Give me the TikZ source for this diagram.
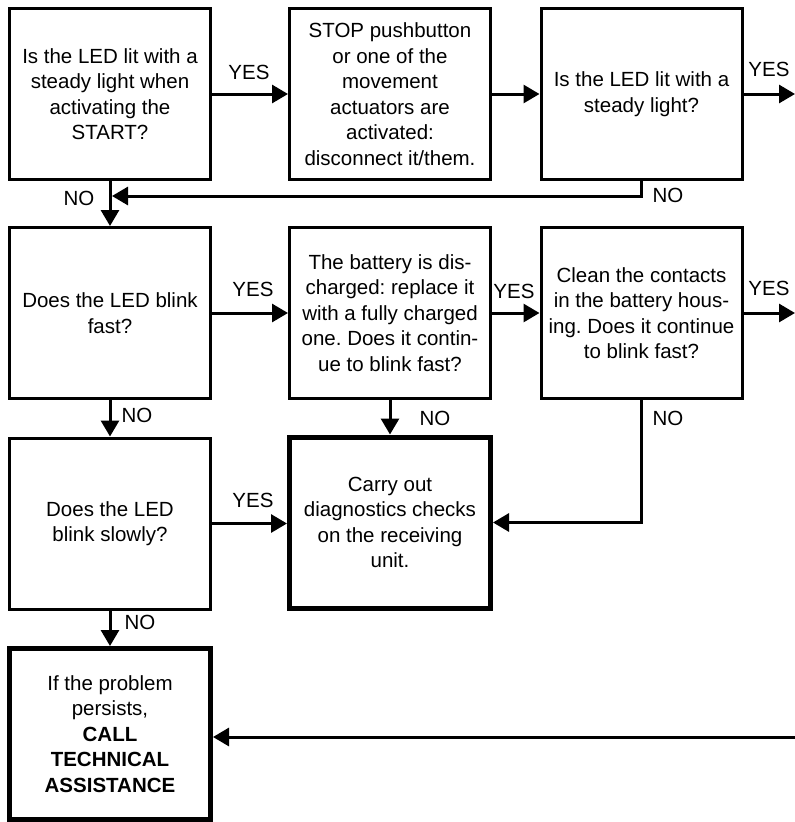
\documentclass[tikz,border=0pt]{standalone}
\usepackage{fontspec}
\setmainfont{Liberation Sans}
\usetikzlibrary{arrows.meta,positioning}
\frenchspacing

\begin{document}
\begin{tikzpicture}[x=1pt,y=-1pt,
    font=\fontsize{20.5}{25.5}\selectfont,
    flowbox/.style={draw,line width=3pt,minimum width=201pt,minimum height=171pt,
      align=center,inner sep=0pt},
    thickbox/.style={flowbox,line width=5pt},
    lbl/.style={inner sep=0pt},
    flow/.style={line width=3pt,-{Triangle[length=16pt,width=18pt]}}]
  \useasboundingbox (0,0) rectangle (795,822);

  % first row
  \node[flowbox] (startq) at (110,94) {Is the LED lit with a\\ steady light when\\ activating the\\ START?};
  \node[flowbox] (stopbox) at (390,94) {STOP pushbutton\\ or one of the\\ movement\\ actuators are\\ activated:\\ disconnect it/them.};
  \node[flowbox] (steadyq) at (641.5,94) {Is the LED lit with a\\ steady light?};
  % second row
  \node[flowbox] (fastq) at (110,313) {Does the LED blink\\ fast?};
  \node[flowbox] (battery) at (390,313) {The battery is dis-\\ charged: replace it\\ with a fully charged\\ one. Does it contin-\\ ue to blink fast?};
  \node[flowbox] (contacts) at (641.5,313) {Clean the contacts\\ in the battery hous-\\ ing. Does it continue\\ to blink fast?};
  % third row
  \node[flowbox] (slowq) at (110,523.5) {Does the LED\\ blink slowly?};
  \node[thickbox] (diag) at (390,522.5) {Carry out\\ diagnostics checks\\ on the receiving\\ unit.};
  % last row
  \node[thickbox] (assist) at (110,734) {If the problem\\ persists,\\ \textbf{CALL}\\ \textbf{TECHNICAL}\\ \textbf{ASSISTANCE}};

  \coordinate (outA) at (795,94);
  \coordinate (outB) at (795,313);
  \coordinate (inC) at (795,737);
  \coordinate (merge) at (112,196);

  \draw[flow] (startq) -- (stopbox);
  \draw[flow] (stopbox) -- (steadyq);
  \draw[flow] (steadyq) -- (outA);
  \draw[flow] (startq) -- (fastq);
  \draw[flow] (steadyq.south) |- (merge);
  \draw[flow] (fastq) -- (battery);
  \draw[flow] (battery) -- (contacts);
  \draw[flow] (contacts) -- (outB);
  \draw[flow] (fastq) -- (slowq);
  \draw[flow] (battery) -- (diag);
  \draw[flow] (contacts.south) |- (diag.east);
  \draw[flow] (slowq.east) -- (diag.west |- slowq.east);
  \draw[flow] (slowq) -- (assist);
  \draw[flow] (inC) -- (assist.east |- inC);

  % answers
  \node[lbl] (yesA) at (249,72) {YES};
  \node[lbl] (yesB) at (769,69) {YES};
  \node[lbl] (noA) at (79,198) {NO};
  \node[lbl] (noB) at (668,195) {NO};
  \node[lbl] (yesC) at (253,289) {YES};
  \node[lbl] (yesD) at (514,291) {YES};
  \node[lbl] (yesE) at (769,288) {YES};
  \node[lbl] (noC) at (137,415) {NO};
  \node[lbl] (noD) at (435,418) {NO};
  \node[lbl] (noE) at (668,418) {NO};
  \node[lbl] (yesF) at (253,500) {YES};
  \node[lbl] (noF) at (140,622) {NO};
\end{tikzpicture}
\end{document}
